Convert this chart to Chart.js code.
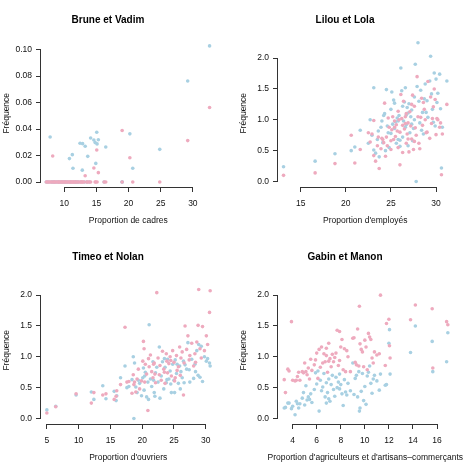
<!DOCTYPE html>
<html><head><meta charset="utf-8">
<script src="https://cdn.jsdelivr.net/npm/chart.js@4.4.1/dist/chart.umd.min.js"></script>
<style>
html,body{margin:0;padding:0;background:#fff;}
#wrap{position:relative;width:474px;height:474px;}
.cell{position:absolute;width:237px;height:237px;}
canvas{display:block;}
</style></head><body>
<div id="wrap">
<div class="cell" style="left:0;top:0"><canvas id="c1" width="237" height="237"></canvas></div>
<div class="cell" style="left:237px;top:0"><canvas id="c2" width="237" height="237"></canvas></div>
<div class="cell" style="left:0;top:237px"><canvas id="c3" width="237" height="237"></canvas></div>
<div class="cell" style="left:237px;top:237px"><canvas id="c4" width="237" height="237"></canvas></div>
</div>
<script>
// ---------- DATA ----------
const titles = ["Brune et Vadim", "Lilou et Lola", "Timeo et Nolan", "Gabin et Manon"];
const xLabels = ["Proportion de cadres", "Proportion d'employés", "Proportion d'ouvriers", "Proportion d'agriculteurs et d'artisans–commerçants"];
const yLabel = "Fréquence";

const cadresTicks = [10, 15, 20, 25, 30];
const employesTicks = [15, 20, 25, 30];
const ouvriersTicks = [5, 10, 15, 20, 25, 30];
const agriTicks = [4, 6, 8, 10, 12, 14, 16];
const freqTicksSmall = [0, 0.02, 0.04, 0.06, 0.08, 0.10];
const freqTicks = [0, 0.5, 1.0, 1.5, 2.0];

const cadres = [7.2,7.4,7.6,7.8,8.0,8.2,8.2,8.4,8.5,8.7,8.9,9.1,9.2,9.4,9.6,9.7,9.9,10.1,10.2,10.4,10.6,10.8,10.9,11.1,11.25,11.35,11.5,11.7,11.8,12.0,12.2,12.45,12.6,12.8,12.85,13.1,13.25,13.5,13.65,13.9,14.1,14.6,14.8,14.9,15.05,15.1,15.3,16.2,16.45,19.0,19.0,20.2,20.65,24.85,29.2,32.6];
const cadresBlue = [0,0,0,0.034,0,0,0,0,0,0,0,0,0,0,0,0,0,0,0,0,0,0.0177,0,0,0.0207,0.0104,0,0,0,0,0,0.0293,0,0.009,0.029,0,0.027,0,0.0194,0,0.0333,0.0318,0.0298,0.0141,0.0376,0.0288,0.032,0,0.0265,0,0,0.0364,0.0104,0.0247,0.0763,0.1028];
const cadresPink = [0,0,0,0,0,0.0197,0,0,0,0,0,0,0,0,0,0,0,0,0,0,0,0,0,0,0,0,0,0,0,0,0,0,0,0,0,0,0.0048,0,0,0,0,0.0106,0,0,0.0242,0,0.0071,0,0,0.0389,0,0.0184,0,0,0.0313,0.0563];

const employes = [13.1,16.6,18.8,20.6,21.0,21.6,22.7,22.9,23.1,23.1,23.3,23.5,23.7,24.0,24.2,24.3,24.5,24.6,24.8,25.0,25.1,25.2,25.3,25.4,25.5,25.6,25.7,25.8,25.9,26.0,26.1,26.2,26.3,26.3,26.4,26.5,26.6,26.7,26.8,26.9,27.0,27.1,27.2,27.3,27.4,27.5,27.6,27.7,27.8,27.9,28.0,28.1,28.2,28.3,28.4,28.5,28.6,28.8,29.0,29.1,29.3,29.4,29.5,29.6,29.8,29.9,30.0,30.1,30.4,30.5,30.6,30.7,31.2,24.1,23.9,25.0,22.5,24.7,26.6,27.3,25.8,26.9,28.9,30.2,23.6,24.4,26.0,27.6,28.7,29.7,25.4,26.7];
const employesBlue = [0.24,0.33,0.45,0.50,0.56,0.83,1.00,0.75,1.52,0.51,0.46,0.68,0.40,0.98,1.07,1.10,1.49,0.90,0.55,0.78,1.45,0.93,1.32,0.86,0.97,0.62,1.03,0.68,1.07,0.57,1.84,1.47,1.22,0.72,0.98,1.29,0.88,0.92,1.20,1.11,1.26,0.79,1.05,0.93,0.66,0.86,1.37,1.90,0.00,1.54,2.25,1.30,0.95,1.48,0.83,1.12,0.77,1.58,1.31,1.04,1.63,2.03,1.42,1.17,1.76,0.90,1.66,1.28,1.74,1.18,0.22,0.88,1.63,0.63,0.88,1.17,0.62,0.79,1.52,1.16,0.98,0.58,1.12,1.43,0.82,0.50,0.67,1.00,1.34,0.96,1.27,1.08];
const employesPink = [0.10,0.14,0.29,0.75,0.30,0.52,0.64,0.77,0.99,0.42,0.33,0.58,0.21,0.70,0.63,1.27,0.72,0.58,0.88,0.52,0.84,1.05,0.68,0.98,0.73,0.92,0.82,0.55,1.00,0.27,1.41,1.02,0.91,0.47,1.30,0.85,1.05,0.62,0.77,0.95,0.48,1.13,0.90,0.69,1.40,0.52,1.22,0.87,0.75,1.70,1.05,0.62,0.53,1.04,1.35,0.91,1.28,1.00,0.80,1.62,0.70,1.37,0.94,1.02,1.50,1.33,0.76,1.02,0.88,0.95,0.11,0.77,1.25,0.68,0.53,0.66,0.79,1.03,0.94,1.25,1.14,0.69,0.79,1.00,0.72,0.41,0.80,0.65,1.17,1.21,0.88,1.10];

const ouvriers = [5.0,6.4,9.6,12.0,12.4,13.8,14.3,15.6,15.9,16.6,17.3,17.6,17.9,18.4,18.6,18.7,18.8,19.2,19.4,19.6,19.9,20.1,20.2,20.3,20.5,20.7,20.9,21.0,21.1,21.3,21.5,21.7,21.9,22.1,22.3,22.5,22.7,22.8,23.0,23.2,23.4,23.6,23.8,24.0,24.2,24.4,24.6,24.8,25.0,25.2,25.4,25.7,25.9,26.1,26.3,26.5,26.6,26.75,27.0,27.2,27.5,27.8,28.1,28.3,28.6,28.8,28.9,29.1,29.3,29.5,29.8,30.1,30.3,30.6,30.7,22.0,23.5,24.5,25.5,19.0,21.8,26.0,27.4,16.0,23.9,20.4,25.1,28.4];
const ouvriersBlue = [0.14,0.20,0.38,0.43,0.31,0.53,0.32,0.44,0.29,0.66,0.85,0.50,0.52,0.63,1.00,0.00,0.90,0.42,0.62,0.57,0.37,0.66,0.82,0.46,0.75,0.35,0.59,0.31,1.52,0.64,0.52,0.92,0.42,0.74,0.83,0.59,1.16,0.33,0.69,0.92,0.48,0.83,0.58,0.96,0.64,0.77,0.42,0.88,0.62,0.95,0.73,0.57,0.85,0.76,0.66,0.93,0.58,0.87,0.80,1.23,0.59,0.96,0.65,0.88,1.10,0.70,1.20,0.67,1.17,0.60,1.00,0.93,0.97,0.90,0.85,0.36,0.97,0.56,0.88,0.51,0.62,0.48,0.79,0.37,0.63,0.69,0.42,0.76];
const ouvriersPink = [0.09,0.19,0.40,0.25,0.42,0.38,0.40,0.31,0.36,0.55,1.48,0.59,0.60,0.41,0.71,0.55,0.59,0.64,0.80,0.48,0.61,0.93,1.25,1.13,0.88,0.72,0.13,0.97,0.84,1.03,0.76,0.66,0.90,0.58,2.04,0.98,0.71,0.86,0.62,1.09,0.80,0.57,1.05,0.74,0.89,1.00,0.69,1.10,0.91,0.66,1.02,0.84,1.16,0.98,1.08,0.38,0.90,1.50,1.12,1.34,1.02,1.22,0.85,1.05,1.24,1.51,2.09,1.13,0.98,1.49,1.10,1.34,1.20,1.72,2.07,0.72,0.75,0.94,0.78,0.43,0.88,0.70,0.95,0.45,0.93,0.59,0.61,0.91];

const agri = [3.3,3.4,3.6,3.7,3.9,4.0,4.2,4.3,4.5,4.6,4.8,4.9,5.0,5.1,5.2,5.3,5.5,5.6,5.8,5.9,6.0,6.1,6.2,6.3,6.4,6.5,6.6,6.7,6.8,6.9,7.0,7.1,7.2,7.3,7.4,7.5,7.6,7.7,7.8,7.9,8.0,8.1,8.2,8.3,8.4,8.5,9.1,9.2,9.3,9.4,9.5,9.55,9.6,9.7,9.8,9.9,10.0,10.1,10.2,10.3,10.4,10.5,10.6,10.8,11.0,11.2,11.3,11.7,11.8,12.0,12.05,12.1,13.8,14.2,15.6,15.65,16.8,16.9,7.0,8.6,9.0,6.8,5.4,4.4,7.9,10.7,8.8];
const agriBlue = [0.17,0.18,0.25,0.25,0.16,0.20,0.06,0.28,0.17,0.24,0.33,0.42,0.22,0.53,0.30,0.35,0.40,0.26,0.47,0.74,0.56,0.77,0.12,0.62,0.45,0.51,0.73,0.35,0.58,0.42,0.64,0.28,0.55,0.70,0.47,0.36,0.67,0.50,0.59,0.72,0.55,0.40,0.21,0.63,0.43,0.38,0.39,0.65,0.70,0.35,0.76,0.12,0.17,0.44,0.73,0.29,0.52,0.23,0.69,0.75,0.85,0.57,0.41,0.70,0.61,0.46,0.72,0.54,0.55,1.22,1.44,0.72,1.07,1.50,1.25,0.76,0.92,1.39,0.32,0.57,0.90,0.25,0.31,0.24,0.48,0.64,0.45];
const agriPink = [0.63,0.42,0.80,0.77,1.57,0.62,0.61,0.62,0.75,0.62,0.76,0.74,0.90,0.76,0.71,0.82,0.96,0.78,0.87,0.95,1.06,0.65,1.12,0.83,1.16,0.90,1.05,0.92,1.02,0.75,1.22,0.97,0.84,1.04,0.92,0.99,1.06,1.43,0.86,1.41,1.16,1.28,0.79,1.13,0.76,1.10,1.31,0.91,0.87,1.45,0.85,1.82,1.21,1.12,1.08,0.84,1.27,1.16,0.79,1.38,1.32,1.28,0.98,1.08,1.03,1.05,2.00,0.86,1.54,1.61,1.18,0.98,1.60,1.84,1.78,0.82,1.57,1.52,0.93,1.00,1.30,1.14,0.64,0.68,0.94,0.90,0.76];

// ---------- STYLE ----------
const FONT = "'Liberation Sans', Arial, Helvetica, sans-serif";
const BLUE = '#a8d0e2';
const PINK = '#eeaabe';
const AXIS = '#333';
const TXT = '#111';

// R-style axes: axis lines span first..last tick; x-axis title drawn un-squeezed
const rAxes = {
  id: 'rAxes',
  afterDraw(chart, args, opts) {
    const {ctx, chartArea: a, scales} = chart;
    const xs = scales.x, ys = scales.y;
    const xv = opts.xTicks, yv = opts.yTicks;
    ctx.save();
    ctx.fillStyle = AXIS;
    const yb = Math.round(a.bottom - 0.5);
    const xl = Math.round(a.left - 0.5);
    const x0 = Math.round(xs.getPixelForValue(xv[0]) - 0.5);
    const x1 = Math.round(xs.getPixelForValue(xv[xv.length - 1]) - 0.5);
    const yA = Math.round(ys.getPixelForValue(yv[0]) - 0.5);
    const yB = Math.round(ys.getPixelForValue(yv[yv.length - 1]) - 0.5);
    ctx.fillRect(x0, yb, x1 - x0 + 1, 1);
    ctx.fillRect(xl, Math.min(yA, yB), 1, Math.abs(yA - yB) + 1);
    ctx.fillStyle = TXT;
    ctx.font = "8.5px " + FONT;
    ctx.textAlign = 'center';
    ctx.textBaseline = 'middle';
    ctx.fillText(opts.xTitle, (a.left + a.right) / 2, a.bottom + 33.5);
    ctx.restore();
  }
};

function dataset(xs, ys, color, order) {
  return {
    data: xs.map((v, i) => ({x: v, y: ys[i]})),
    backgroundColor: color, borderColor: color,
    pointRadius: 1.8, pointBorderWidth: 0, pointHoverRadius: 1.8, order
  };
}

function makeChart(id, cfg) {
  const tickFont = {family: FONT, size: 8.5};
  new Chart(document.getElementById(id), {
    type: 'scatter',
    data: {datasets: [dataset(cfg.x, cfg.blue, BLUE, 1), dataset(cfg.x, cfg.pink, PINK, 0)]},
    options: {
      responsive: false, animation: false, devicePixelRatio: 1,
      layout: {padding: {top: 0, right: 21, bottom: 0, left: 0}},
      plugins: {
        legend: {display: false}, tooltip: {enabled: false},
        title: {display: true, text: cfg.title, color: '#000',
          font: {family: FONT, size: 10, weight: 'bold', lineHeight: 1.2},
          padding: {top: 14, bottom: 13}},
        rAxes: {xTitle: cfg.xLabel, xTicks: cfg.xTicks, yTicks: cfg.yTicks}
      },
      scales: {
        x: {
          type: 'linear', min: cfg.xMin, max: cfg.xMax,
          afterBuildTicks: s => { s.ticks = cfg.xTicks.map(v => ({value: v})); },
          afterFit: s => { s.height = 49.5; },
          grid: {display: true, drawOnChartArea: false, drawTicks: true, tickLength: 4.5, color: AXIS, lineWidth: 1},
          border: {display: false},
          ticks: {autoSkip: false, maxRotation: 0, padding: 7, color: TXT, font: tickFont,
            callback: v => String(v)},
          title: {display: false}
        },
        y: {
          type: 'linear', min: cfg.yMin, max: cfg.yMax,
          afterBuildTicks: s => { s.ticks = cfg.yTicks.map(v => ({value: v})); },
          afterFit: s => { s.width = 40.5; },
          grid: {display: true, drawOnChartArea: false, drawTicks: true, tickLength: 4.5, color: AXIS, lineWidth: 1},
          border: {display: false},
          ticks: {autoSkip: false, padding: 4, color: TXT, font: tickFont,
            callback: v => Number(v).toFixed(cfg.yDec)},
          title: {display: true, text: yLabel, color: TXT, font: {family: FONT, size: 8.5, lineHeight: 1.2},
            padding: {top: 1.5, bottom: 0}}
        }
      }
    },
    plugins: [rAxes]
  });
}

makeChart('c1', {title: titles[0], xLabel: xLabels[0], x: cadres, blue: cadresBlue, pink: cadresPink,
  xMin: 6.3, xMax: 33.6, xTicks: cadresTicks, yMin: -0.0041, yMax: 0.108, yTicks: freqTicksSmall, yDec: 2});
makeChart('c2', {title: titles[1], xLabel: xLabels[1], x: employes, blue: employesBlue, pink: employesPink,
  xMin: 12.43, xMax: 31.88, xTicks: employesTicks, yMin: -0.097, yMax: 2.31, yTicks: freqTicks, yDec: 1});
makeChart('c3', {title: titles[2], xLabel: xLabels[2], x: ouvriers, blue: ouvriersBlue, pink: ouvriersPink,
  xMin: 4.0, xMax: 31.62, xTicks: ouvriersTicks, yMin: -0.097, yMax: 2.31, yTicks: freqTicks, yDec: 1});
makeChart('c4', {title: titles[3], xLabel: xLabels[3], x: agri, blue: agriBlue, pink: agriPink,
  xMin: 2.74, xMax: 17.33, xTicks: agriTicks, yMin: -0.097, yMax: 2.31, yTicks: freqTicks, yDec: 1});
</script>
</body></html>
